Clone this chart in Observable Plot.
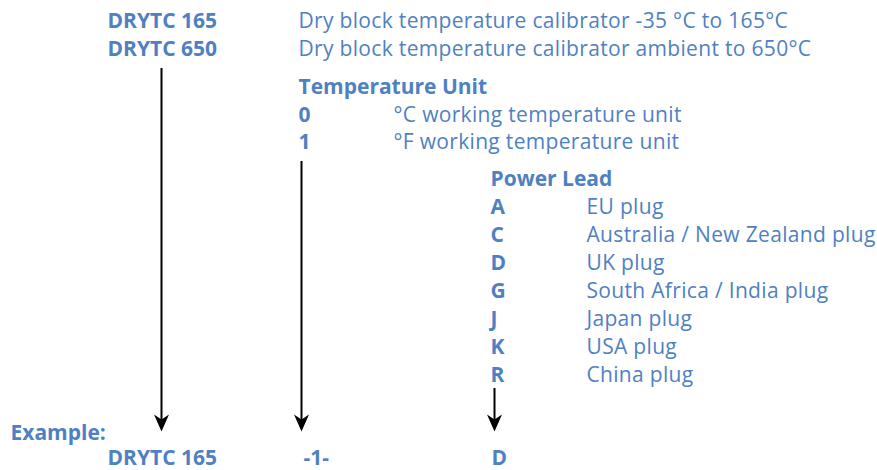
<!DOCTYPE html>
<html>
<head>
<meta charset="utf-8">
<script src="https://cdn.jsdelivr.net/npm/d3@7"></script>
<script src="https://cdn.jsdelivr.net/npm/@observablehq/plot@0.6"></script>
<style>
  html, body { margin: 0; padding: 0; background: #fff; }
  #chart { width: 877px; height: 470px; }
  #chart g[font-weight="normal"] text { letter-spacing: 0.32px; }
</style>
</head>
<body>
<div id="chart"></div>
<script>
// ---- Data ----
const modelCodes = ["DRYTC 165", "DRYTC 650"];
const modelDescs = [
  "Dry block temperature calibrator -35 °C to 165°C",
  "Dry block temperature calibrator ambient to 650°C"
];
const unitTitle = "Temperature Unit";
const unitCodes = ["0", "1"];
const unitDescs = ["°C working temperature unit", "°F working temperature unit"];
const leadTitle = "Power Lead";
const leadCodes = ["A", "C", "D", "G", "J", "K", "R"];
const leadDescs = [
  "EU plug",
  "Australia / New Zealand plug",
  "UK plug",
  "South Africa / India plug",
  "Japan plug",
  "USA plug",
  "China plug"
];
const exampleLabel = "Example:";
const exampleParts = ["DRYTC 165", "-1-", "D"];

// ---- Layout (pixel space) ----
const W = 877, H = 470;
const BLUE = "#4f81c2";
const FONT = "Open Sans";
const FS = 21;
const lineH = 28;
const col = {model: 107, modelDesc: 298, unit: 298, unitDesc: 393, lead: 490, leadDesc: 586};
const arrowX = [161, 301, 494];
const arrowTop = [68, 161, 388];
const arrowTip = 431;

const boldRows = [];
const textRows = [];
modelCodes.forEach((c, i) => {
  boldRows.push({x: col.model, y: 27 + i * lineH, t: c});
  textRows.push({x: col.modelDesc, y: 27 + i * lineH, t: modelDescs[i]});
});
boldRows.push({x: col.unit, y: 93, t: unitTitle});
unitCodes.forEach((c, i) => {
  boldRows.push({x: col.unit, y: 121 + i * 27.5, t: c});
  textRows.push({x: col.unitDesc, y: 121 + i * 27.5, t: unitDescs[i]});
});
boldRows.push({x: col.lead, y: 185, t: leadTitle});
leadCodes.forEach((c, i) => {
  boldRows.push({x: col.lead, y: 213 + i * lineH, t: c});
  textRows.push({x: col.leadDesc, y: 213 + i * lineH, t: leadDescs[i]});
});
boldRows.push({x: 10, y: 439, t: exampleLabel});
const exX = [107, 303, 491];
exampleParts.forEach((p, i) => boldRows.push({x: exX[i], y: 464, t: p}));

const arrows = arrowX.map((x, i) => ({x, y1: arrowTop[i], y2: arrowTip - 10, tip: arrowTip}));

const headSymbol = {
  draw(ctx) {
    ctx.moveTo(0, 0);
    ctx.lineTo(-7.5, -17);
    ctx.lineTo(0, -12);
    ctx.lineTo(7.5, -17);
    ctx.closePath();
  }
};

const chart = Plot.plot({
  width: W,
  height: H,
  margin: 0,
  x: {domain: [0, W], range: [0, W], axis: null},
  y: {domain: [0, H], range: [0, H], axis: null},
  style: {background: "#fff"},
  marks: [
    Plot.ruleX(arrows, {x: "x", y1: "y1", y2: "y2", stroke: "#000", strokeWidth: 2}),
    Plot.dot(arrows, {x: "x", y: "tip", symbol: headSymbol, fill: "#000", stroke: "none"}),
    Plot.text(textRows, {x: "x", y: "y", text: "t", textAnchor: "start", lineAnchor: "bottom",
      fill: BLUE, fontSize: FS, fontFamily: FONT, fontWeight: "normal"}),
    Plot.text(boldRows, {x: "x", y: "y", text: "t", textAnchor: "start", lineAnchor: "bottom",
      fill: BLUE, fontSize: FS, fontFamily: FONT, fontWeight: "bold"})
  ]
});
document.getElementById("chart").appendChild(chart);
</script>
</body>
</html>
